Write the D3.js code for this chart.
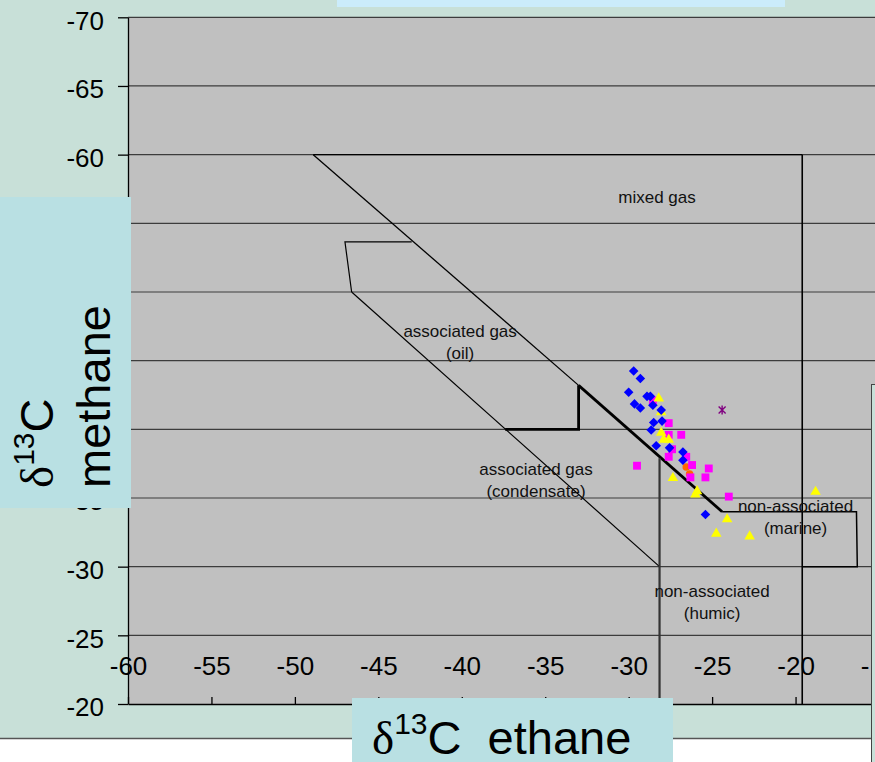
<!DOCTYPE html>
<html lang="en">
<head>
<meta charset="utf-8">
<title>d13C methane vs d13C ethane</title>
<script src="https://cdn.jsdelivr.net/npm/d3@7"></script>
<style>
	body { margin: 0; background: #fff; }
	svg { display: block; font-family: "Liberation Sans", Arial, sans-serif; }
</style>
</head>
<body>
<svg></svg>
<script>
var width = 875;
var height = 762;

// axis ticks
var xTicks = [-60, -55, -50, -45, -40, -35, -30, -25, -20, -15];
var yTicks = [-70, -65, -60, -55, -50, -45, -40, -35, -30, -25, -20];

// samples as [ethane, methane]
var blueDiamonds = [
	[-29.7, -44.25], [-29.3, -43.7], [-30.0, -42.7], [-28.9, -42.4], [-28.7, -42.4],
	[-29.65, -41.85], [-29.3, -41.55], [-28.55, -41.75], [-28.05, -41.4], [-28.5, -40.5],
	[-28.0, -40.6], [-28.65, -39.95], [-28.35, -38.8], [-27.55, -38.65], [-26.75, -38.35],
	[-26.75, -37.75], [-25.4, -33.8]
];
var magentaSquares = [
	[-28.55, -42.1], [-27.6, -40.45], [-26.85, -39.6], [-27.6, -39.6], [-27.4, -38.55],
	[-27.6, -38.0], [-26.55, -38.0], [-26.2, -37.4], [-29.5, -37.35], [-25.2, -37.15],
	[-26.3, -36.5], [-25.4, -36.5], [-24.0, -35.1]
];
var yellowTriangles = [
	[-28.2, -42.25], [-28.05, -41.25], [-28.05, -39.75], [-27.9, -39.25], [-27.6, -39.25],
	[-27.35, -36.45], [-25.9, -35.5], [-26.0, -35.25], [-24.1, -33.45], [-24.75, -32.4],
	[-22.75, -32.2], [-18.8, -35.45]
];
var orangeCircles = [[-26.55, -37.25], [-26.35, -36.75]];
var purpleStars = [[-24.4, -41.4]];

// genetic field boundaries
var mixedTop = [[-48.9, -60], [-19.6, -60]];
var mixedRight = [[-19.6, -60], [-19.6, -20]];
var upperLine = [[-48.9, -60], [-33, -43.2]];
var upperThick = [[-33, -43.2], [-24.4, -34]];
var marineBox = [[-24.4, -34], [-16.35, -34], [-16.3, -30], [-19.6, -30]];
var oilBox = [[-43, -53.65], [-47, -53.65], [-46.6, -50]];
var lowerLine = [[-46.6, -50], [-28.15, -30]];
var condensateStep = [[-37.4, -40], [-33, -40], [-33, -43.2]];
var humicLine = [[-28.15, -37.9], [-28.15, -20]];

var zoneNames = [["mixed gas"], ["associated gas", "(oil)"], ["associated gas", "(condensate)"],
	["non-associated", "(marine)"], ["non-associated", "(humic)"]];
var zoneSpots = [[-28.3, -56.5], [-40.1, -46.7], [-35.55, -36.7], [-20.0, -34.0], [-25.0, -27.8]];

var svg = d3.select("svg")
	.attr("width", width)
	.attr("height", height);

var x = d3.scaleLinear().domain([-60, -15]).range([128, 879]);
var y = d3.scaleLinear().domain([-70, -20]).range([17.3, 704]);

// backgrounds
svg.append("rect").attr("width", width).attr("height", 738).attr("fill", "#c8e0d8");
svg.append("line").attr("x1", 0).attr("x2", 872).attr("y1", 738.5).attr("y2", 738.5)
	.attr("stroke", "#555").attr("stroke-width", 1.5);
svg.append("rect").attr("x", 337).attr("y", 0).attr("width", 448).attr("height", 7).attr("fill", "#cbecfb");

svg.append("rect")
	.attr("x", x(-60)).attr("y", y(-70))
	.attr("width", x(-15) - x(-60)).attr("height", y(-20) - y(-70))
	.attr("fill", "#c0c0c0");

// horizontal grid
svg.append("g").selectAll("line")
	.data(yTicks.slice(0, -1))
	.enter().append("line")
	.attr("x1", x(-60)).attr("x2", x(-15))
	.attr("y1", function(d) { return y(d); })
	.attr("y2", function(d) { return y(d); })
	.attr("stroke", "#3c3c3c")
	.attr("stroke-width", 1.2);

var line = d3.line()
	.x(function(d) { return x(d[0]); })
	.y(function(d) { return y(d[1]); });

function boundary(pts, w, col) {
	svg.append("path")
		.attr("d", line(pts))
		.attr("fill", "none")
		.attr("stroke", col || "#000")
		.attr("stroke-width", w);
}
boundary(mixedTop, 1.3);
boundary(mixedRight, 1.6);
boundary(upperLine, 1.3);
boundary(upperThick, 2.8);
boundary(marineBox, 1.5);
boundary(oilBox, 1.2);
boundary(lowerLine, 1.2);
boundary(condensateStep, 2.8);
boundary(humicLine, 2.2, "#333");

// field labels
var zones = svg.append("g")
	.selectAll("text")
	.data(zoneNames)
	.enter().append("text")
	.attr("text-anchor", "middle")
	.attr("font-size", "17px")
	.attr("fill", "#111")
	.attr("transform", function(d, i) {
		return "translate(" + x(zoneSpots[i][0]) + "," + y(zoneSpots[i][1]) + ")";
	});
zones.selectAll("tspan")
	.data(function(d) { return d; })
	.enter().append("tspan")
	.attr("x", 0)
	.attr("y", function(d, i) { return i * 22; })
	.text(function(d) { return d; });

// samples
function markers(data, type, size, col, turn) {
	svg.append("g").selectAll("path")
		.data(data)
		.enter().append("path")
		.attr("d", d3.symbol().type(type).size(size))
		.attr("transform", function(d) {
			return "translate(" + x(d[0]) + "," + y(d[1]) + ")" + (turn ? " rotate(45)" : "");
		})
		.attr("fill", col);
}
markers(orangeCircles, d3.symbolCircle, 44, "#ff6600");
markers(magentaSquares, d3.symbolSquare, 62, "#ff00ff");
markers(yellowTriangles, d3.symbolTriangle, 48, "#ffff00");
markers(blueDiamonds, d3.symbolSquare, 46, "#0000ff", true);

svg.append("g").selectAll("path")
	.data(purpleStars)
	.enter().append("path")
	.attr("transform", function(d) { return "translate(" + x(d[0]) + "," + y(d[1]) + ")"; })
	.attr("d", "M-3.5,-3.5L3.5,3.5M3.5,-3.5L-3.5,3.5M0,-4.5L0,4.5")
	.attr("stroke", "#800080")
	.attr("stroke-width", 1.4)
	.attr("fill", "none");

// axes (plain hyphen for negatives)
var fmt = function(d) { return String(d); };
var xAxis = svg.append("g")
	.attr("transform", "translate(0," + y(-20) + ")")
	.call(d3.axisTop(x).tickValues(xTicks).tickFormat(fmt)
		.tickSizeInner(7).tickSizeOuter(0).tickPadding(22));
var yAxis = svg.append("g")
	.attr("transform", "translate(" + x(-60) + ",0)")
	.call(d3.axisLeft(y).tickValues(yTicks).tickFormat(fmt)
		.tickSizeInner(10).tickSizeOuter(0).tickPadding(14));

[xAxis, yAxis].forEach(function(ax) {
	ax.selectAll("path, line").attr("stroke", "#000").attr("stroke-width", 1.3);
	ax.selectAll("text")
		.attr("font-family", "Liberation Sans, Arial, sans-serif")
		.attr("font-size", "26px")
		.attr("fill", "#000");
});
yAxis.selectAll("text").attr("dy", "0.46em");
xAxis.selectAll("text").attr("dy", 0);

// axis title boxes
svg.append("rect").attr("x", 0).attr("y", 197).attr("width", 131).attr("height", 311).attr("fill", "#b9e0e3");
svg.append("rect").attr("x", 352).attr("y", 698).attr("width", 321).attr("height", 64).attr("fill", "#b9e0e3");

var xTitle = svg.append("text")
	.attr("x", 372).attr("y", 754)
	.attr("font-size", "47px")
	.style("white-space", "pre");
xTitle.append("tspan").attr("font-family", "Liberation Serif, Times New Roman, serif").text("\u03b4");
xTitle.append("tspan").attr("font-size", "30px").attr("dy", -20).text("13");
xTitle.append("tspan").attr("dy", 20).text("C  ethane");

var yTitle1 = svg.append("text")
	.attr("transform", "translate(53,488) rotate(-90)")
	.attr("font-size", "47px");
yTitle1.append("tspan").attr("font-family", "Liberation Serif, Times New Roman, serif").text("\u03b4");
yTitle1.append("tspan").attr("font-size", "30px").attr("dy", -19).text("13");
yTitle1.append("tspan").attr("dy", 19).text("C");

svg.append("text")
	.attr("transform", "translate(110,488) rotate(-90)")
	.attr("font-size", "47px")
	.text("methane");

// box at the right edge
svg.append("rect")
	.attr("x", 871.5).attr("y", 384.5).attr("width", 10).attr("height", 380)
	.attr("fill", "#c8e0d8").attr("stroke", "#444").attr("stroke-width", 1);
</script>
</body>
</html>
